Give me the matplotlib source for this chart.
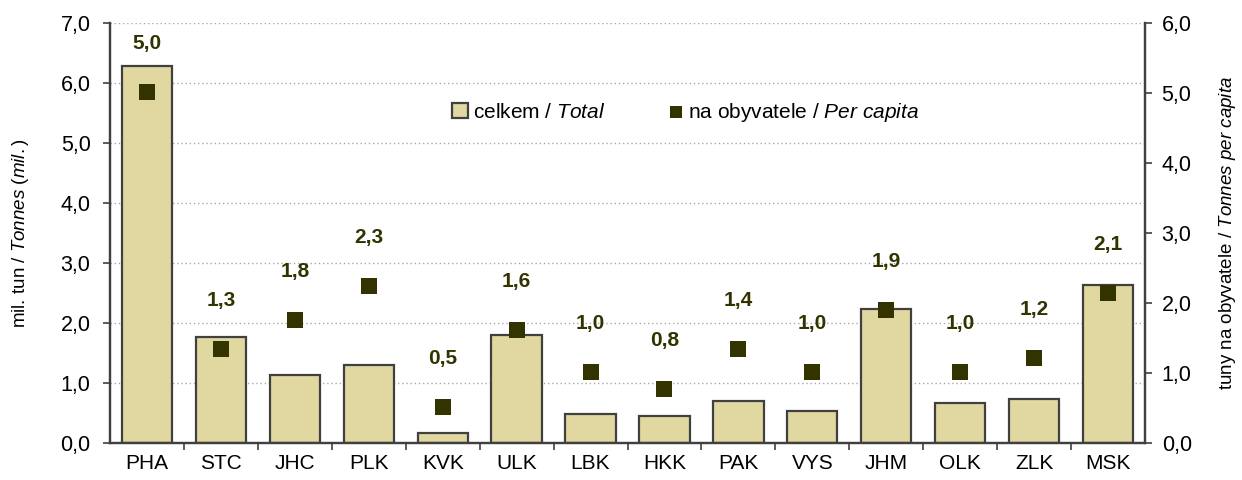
import matplotlib.pyplot as plt
from matplotlib.ticker import FuncFormatter, MultipleLocator

# kraje
regions = ["PHA", "STC", "JHC", "PLK", "KVK", "ULK", "LBK", "HKK",
           "PAK", "VYS", "JHM", "OLK", "ZLK", "MSK"]
# celkem, mil. tun
total = [6.28, 1.77, 1.13, 1.30, 0.17, 1.80, 0.48, 0.45,
         0.70, 0.54, 2.23, 0.67, 0.74, 2.63]
# tuny na obyvatele
per_capita = [5.01, 1.34, 1.76, 2.24, 0.51, 1.62, 1.02, 0.77,
              1.35, 1.02, 1.90, 1.02, 1.21, 2.14]
per_capita_labels = ["5,0", "1,3", "1,8", "2,3", "0,5", "1,6", "1,0", "0,8",
                     "1,4", "1,0", "1,9", "1,0", "1,2", "2,1"]

plt.rcParams["font.family"] = ["Liberation Sans", "DejaVu Sans"]
plt.rcParams["mathtext.fontset"] = "custom"
plt.rcParams["mathtext.rm"] = "Liberation Sans"
plt.rcParams["mathtext.it"] = "Liberation Sans:italic"

bar_color = "#e1d7a0"
edge_color = "#404040"
dark = "#333300"
comma = FuncFormatter(lambda v, p: f"{v:.1f}".replace(".", ","))

fig = plt.figure(figsize=(12.42, 4.8), dpi=100)
ax = fig.add_axes([0.0886, 0.077, 0.8333, 0.875])
ax2 = ax.twinx()

x = range(len(regions))
ax.bar(x, total, width=0.68, color=bar_color, edgecolor=edge_color,
       linewidth=1.6, label=r"celkem / $\mathit{Total}$", zorder=2)
ax2.scatter(x, per_capita, marker="s", s=140, color=dark, linewidths=0,
            zorder=3, label=r"na obyvatele / $\mathit{Per\ capita}$")
for i, (v, t) in enumerate(zip(per_capita, per_capita_labels)):
    ax2.annotate(t, (i, v), xytext=(0, 28), textcoords="offset points",
                 ha="center", va="bottom", fontsize=15, fontweight="bold",
                 color=dark)

ax.set_xlim(-0.5, len(regions) - 0.5)
ax.set_ylim(0, 7)
ax2.set_ylim(0, 6)
ax.yaxis.set_major_locator(MultipleLocator(1))
ax2.yaxis.set_major_locator(MultipleLocator(1))
ax.yaxis.set_major_formatter(comma)
ax2.yaxis.set_major_formatter(comma)

# tick marks between categories, labels centred under bars
ax.set_xticks([i + 0.5 for i in range(len(regions) - 1)])
ax.set_xticklabels([])
ax.set_xticks(list(x), minor=True)
ax.set_xticklabels(regions, minor=True)
ax.tick_params(axis="x", which="major", length=5, width=1.2, color=edge_color)
ax.tick_params(axis="x", which="minor", length=0, labelsize=15, pad=8)
ax.tick_params(axis="y", length=5, width=1.2, color=edge_color,
               labelsize=15.5, pad=9)
ax2.tick_params(axis="y", length=5, width=1.2, color=edge_color,
                labelsize=15.5, pad=7)

ax.grid(axis="y", linestyle=(0, (1, 2)), color="#a8a8a8", linewidth=1, zorder=0)
ax.set_axisbelow(True)

for a in (ax, ax2):
    a.spines["top"].set_visible(False)
    for s in ("left", "right", "bottom"):
        a.spines[s].set_color(edge_color)
        a.spines[s].set_linewidth(1.6)

ax.set_ylabel(r"mil. tun / $\mathit{Tonnes\ (mil.)}$", fontsize=13.5,
              labelpad=21)
ax2.set_ylabel(r"tuny na obyvatele / $\mathit{Tonnes\ per\ capita}$",
               fontsize=13.5, labelpad=18)

h1, l1 = ax.get_legend_handles_labels()
h2, l2 = ax2.get_legend_handles_labels()
ax.legend(h1 + h2, l1 + l2, loc="center left", bbox_to_anchor=(0.312, 0.788),
          ncol=2, frameon=False, fontsize=15, columnspacing=3.0,
          handlelength=0.8, handletextpad=0.2, markerscale=0.75)

fig.savefig("out.png", dpi=100)
